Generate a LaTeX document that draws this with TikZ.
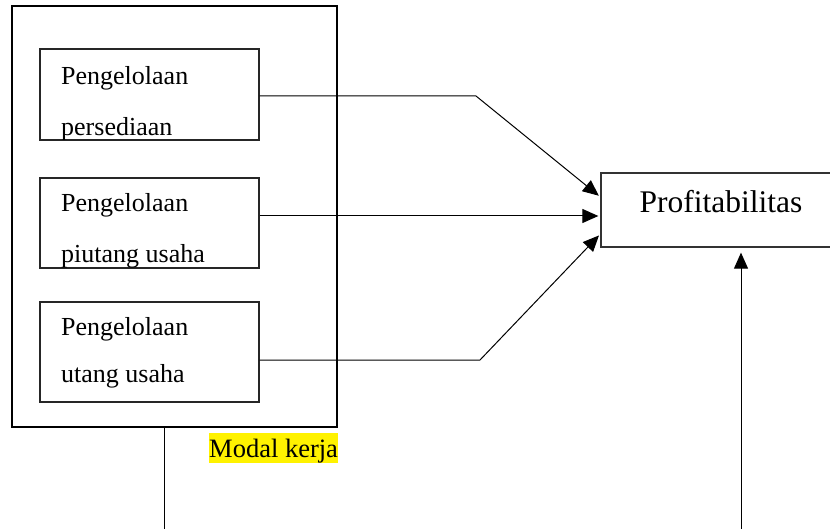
\documentclass[tikz,border=0pt]{standalone}
\usepackage{fontspec}
\setmainfont{Liberation Serif}
\usetikzlibrary{arrows.meta,calc}
\begin{document}
\begin{tikzpicture}[x=1pt,y=1pt,
  boxtext/.style={anchor=base west,inner sep=0pt,font=\fontsize{26}{26}\selectfont},
  inbox/.style={draw,line width=1.1pt,draw=black!85,minimum width=219pt,inner sep=0pt},
  conn/.style={line width=1pt},
  arr/.style={conn,-{Triangle[length=16pt,width=14pt]}}]
\useasboundingbox (0,0) rectangle (830,528);
\clip (0,0) rectangle (830,528);
% outer box
\node[draw,line width=1.8pt,minimum width=325pt,minimum height=421pt,inner sep=0pt] (outer) at (174.5,311.5) {};
% inner boxes
\node[inbox,minimum height=91pt] (box1) at (149.5,433.5) {};
\node[inbox,minimum height=90pt] (box2) at (149.5,305) {};
\node[inbox,minimum height=100pt] (box3) at (149.5,176) {};
\begin{scope}
\clip (40,388) rectangle (259,479);
\node[boxtext] (t1a) at (61,443) {Pengelolaan};
\node[boxtext] (t1b) at (61,392.5) {persediaan};
\end{scope}
\begin{scope}
\clip (40,260) rectangle (259,350);
\node[boxtext] (t2a) at (61,316) {Pengelolaan};
\node[boxtext] (t2b) at (61,265.5) {piutang usaha};
\end{scope}
\node[boxtext] (t3a) at (61,193) {Pengelolaan};
\node[boxtext] (t3b) at (61,146) {utang usaha};
% profitabilitas
\node[draw,line width=1.3pt,draw=black!80,minimum width=269pt,minimum height=74pt,inner sep=0pt] (profit) at (735.5,318) {};
\node[anchor=base,inner sep=0pt,font=\fontsize{31.5}{31.5}\selectfont] (ptext) at (721,315) {Profitabilitas};
% modal kerja label
\node[anchor=base west,fill=yellow,inner xsep=0pt,inner ysep=0pt,text height=24pt,text depth=6pt,font=\fontsize{26.5}{26.5}\selectfont] (modal) at (209,71) {Modal kerja};
% connectors
\coordinate (b1) at (476,432);
\coordinate (b3) at (480,168);
\draw[arr,shorten >=2pt] ($(box1.east)+(0,-1.5)$) -- (b1) -- ($(profit.west)+(0,13)$);
\draw[arr,shorten >=2pt] ($(box2.east)+(0,7)$) -- ($(profit.west)+(0,-6)$);
\draw[arr,shorten >=2pt] ($(box3.east)+(0,-8)$) -- (b3) -- ($(profit.west)+(0,-24)$);
\coordinate (bl) at (164,-2);
\coordinate (br) at (741,-2);
\draw[conn] (outer.south -| bl) -- (bl);
\draw[arr,shorten >=5pt] (br) -- (profit.south -| br);
\end{tikzpicture}
\end{document}
